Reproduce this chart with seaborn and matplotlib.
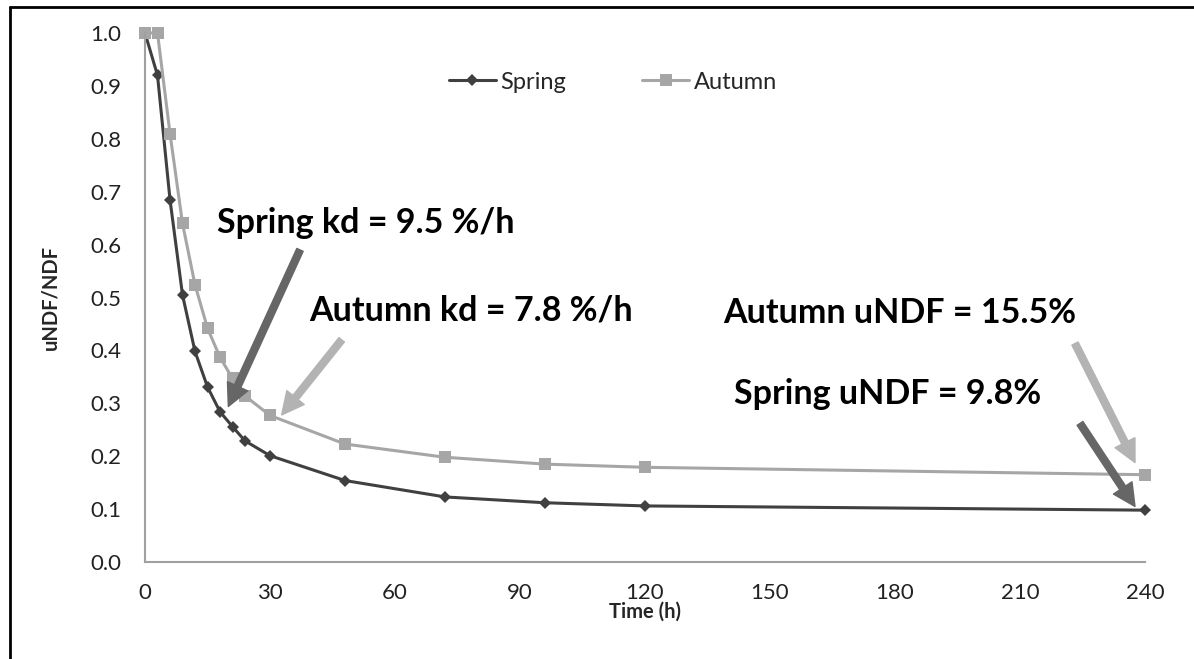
import pandas as pd
import numpy as np
import matplotlib.pyplot as plt
import seaborn as sns
from matplotlib.lines import Line2D

# data
time_h = [0, 3, 6, 9, 12, 15, 18, 21, 24, 30, 48, 72, 96, 120, 240]
spring = [1.0, 0.92, 0.685, 0.505, 0.398, 0.331, 0.284, 0.256, 0.229, 0.201, 0.154, 0.123, 0.112, 0.106, 0.098]
autumn = [1.0, 1.0, 0.81, 0.64, 0.524, 0.442, 0.387, 0.347, 0.314, 0.277, 0.223, 0.198, 0.185, 0.179, 0.165]
x_ticks = [0, 30, 60, 90, 120, 150, 180, 210, 240]
y_ticks = [0.0, 0.1, 0.2, 0.3, 0.4, 0.5, 0.6, 0.7, 0.8, 0.9, 1.0]

sns.set_style('white')
plt.rcParams['font.family'] = ['Lato', 'DejaVu Sans']

df = pd.DataFrame({'time': time_h * 2,
                   'value': spring + autumn,
                   'season': ['Spring'] * len(time_h) + ['Autumn'] * len(time_h)})

fig = plt.figure(figsize=(11.94, 6.59), dpi=100)
ax = fig.add_axes([145 / 1194, 1 - 562 / 659, 1000 / 1194, 529 / 659])

dark = '#404040'
light = '#a6a6a6'
sns.lineplot(data=df[df.season == 'Spring'], x='time', y='value', ax=ax, color=dark,
             lw=2.2, marker='D', markersize=6.5, markeredgewidth=0, label='Spring', clip_on=False)
sns.lineplot(data=df[df.season == 'Autumn'], x='time', y='value', ax=ax, color=light,
             lw=2.2, marker='s', markersize=8, markeredgewidth=0, label='Autumn', clip_on=False)

ax.set_xlim(0, 240)
ax.set_ylim(0, 1.0)
ax.set_xticks(x_ticks)
ax.set_yticks(y_ticks)
ax.set_yticklabels([f'{v:.1f}' for v in y_ticks])
ax.tick_params(length=0, labelsize=16, colors='#222222')
ax.tick_params(axis='y', pad=17)
ax.tick_params(axis='x', pad=15)
for s in ['top', 'right']:
    ax.spines[s].set_visible(False)
for s in ['left', 'bottom']:
    ax.spines[s].set_color('#a0a0a0')
    ax.spines[s].set_linewidth(1.5)

ax.set_xlabel('Time (h)', fontsize=14.5, fontweight='bold', labelpad=-1)
ax.set_ylabel('uNDF/NDF', fontsize=14.5, fontweight='bold')
ax.yaxis.set_label_coords(-0.085, 0.5)

ax.legend(loc='center', bbox_to_anchor=(0.468, 0.907), ncol=2, frameon=False,
          fontsize=17, handlelength=2.0, handletextpad=0.2, columnspacing=3.2)

# annotations
mid = '#666666'
pale = '#b3b3b3'
txt = dict(fontsize=24.5, fontweight='bold', color='black', va='baseline')
ax.text(17.3, 0.622, 'Spring kd = 9.5 %/h', **txt)
ax.text(39.4, 0.457, 'Autumn kd = 7.8 %/h', **txt)
ax.text(138.7, 0.452, 'Autumn uNDF = 15.5%', **txt)
ax.text(141.4, 0.299, 'Spring uNDF = 9.8%', **txt)

style = 'simple,head_length=1.6,head_width=1.6,tail_width=0.5'
arrows = [((37.2, 0.590), (20.0, 0.294), mid),
          ((47.2, 0.420), (32.8, 0.278), pale),
          ((223.2, 0.413), (237.6, 0.188), pale),
          ((224.4, 0.262), (237.6, 0.105), mid)]
for tail, tip, c in arrows:
    ax.annotate('', xy=tip, xytext=tail,
                arrowprops=dict(arrowstyle=style, color=c, shrinkA=0, shrinkB=0, mutation_scale=10))

# frame lines around the chart
fig.add_artist(Line2D([10 / 1194, 1], [1 - 7 / 659] * 2, transform=fig.transFigure, color='black', lw=2))
fig.add_artist(Line2D([10 / 1194] * 2, [0, 1 - 7 / 659], transform=fig.transFigure, color='black', lw=2))

fig.savefig('out.png', dpi=100)
